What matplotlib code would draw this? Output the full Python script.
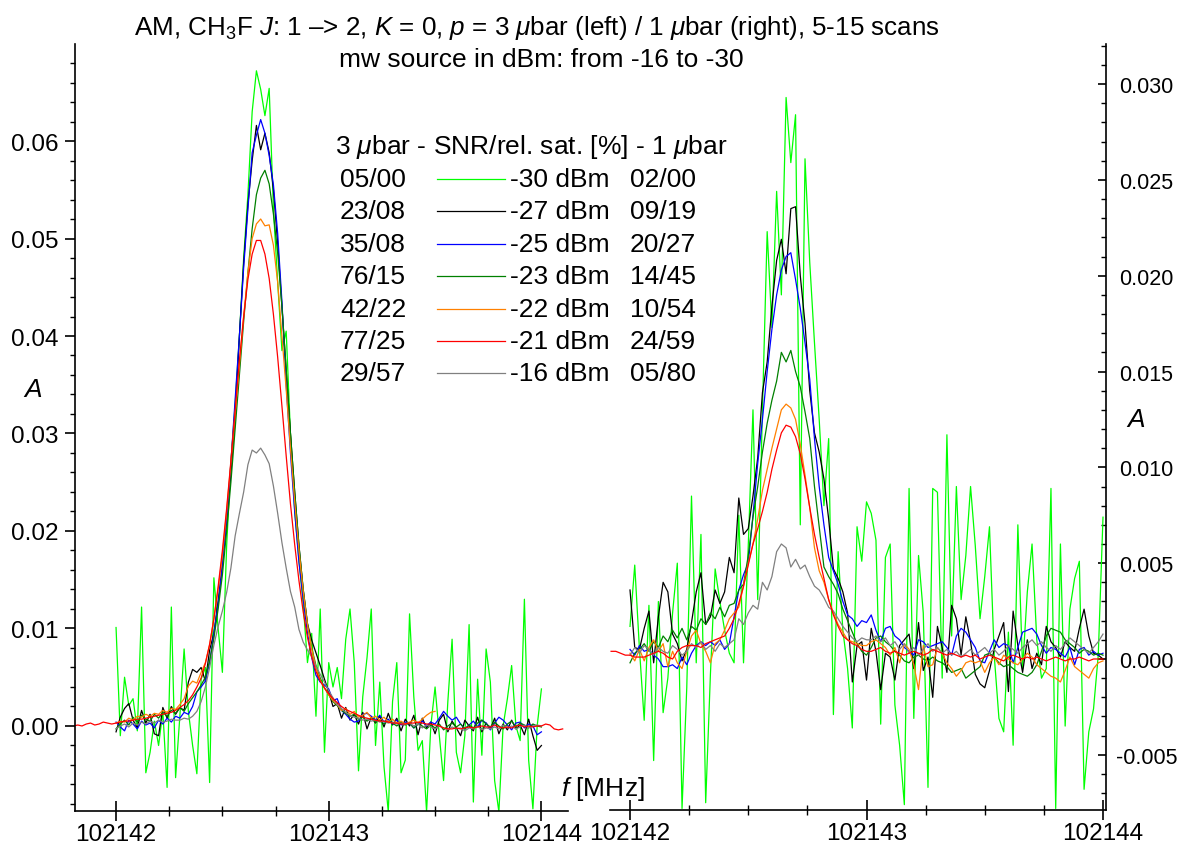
import numpy as np
import matplotlib.pyplot as plt
from matplotlib.lines import Line2D
from matplotlib.ticker import MultipleLocator, FormatStrFormatter

plt.rcParams['font.family'] = ['Liberation Sans', 'DejaVu Sans']
plt.rcParams['mathtext.fontset'] = 'custom'
plt.rcParams['mathtext.rm'] = 'Liberation Sans'
plt.rcParams['mathtext.it'] = 'Liberation Sans:italic'
plt.rcParams['axes.unicode_minus'] = False
plt.rcParams['font.size'] = 19
plt.rcParams['xtick.labelsize'] = 17.5
plt.rcParams['ytick.labelsize'] = 17.5

# frequency grid (MHz)
f_step = 0.02
left_f0 = 102142.0
left_red_f0 = 102141.8
right_f0 = 102142.0
right_red_f0 = 102141.92

powers = ['-30 dBm', '-27 dBm', '-25 dBm', '-23 dBm', '-22 dBm', '-21 dBm', '-16 dBm']
snr_3ubar = ['05/00', '23/08', '35/08', '76/15', '42/22', '77/25', '29/57']
snr_1ubar = ['02/00', '09/19', '20/27', '14/45', '10/54', '24/59', '05/80']
colors = ['#00ff00', '#000000', '#0000ff', '#008000', '#ff8000', '#ff0000', '#808080']

# absorbance A, in units of 1e-3 -- left panel, 3 ubar
left_m30 = [10.1, -1.0, 5.0, 2.1, 2.8, -0.5, 12.2, -4.8, -2.7, 0.5,
            -2.0, 1.5, -6.3, 12.2, -5.3, 1.0, 7.9, 1.5, -2.0, -4.9,
            4.8, 6.0, -5.8, 15.2, 10.0, 5.5, 18.5, 27.0, 33.0, 40.0,
            48.0, 54.5, 63.0, 67.2, 65.3, 62.6, 65.4, 53.0, 45.5, 38.5,
            40.5, 30.0, 22.0, 17.0, 12.5, 6.5, 9.5, 1.0, 12.0, -2.7,
            6.5, 4.0, 6.0, 2.8, 8.9, 12.0, 6.5, -4.6, 3.0, 7.0,
            12.0, -2.0, 4.5, -4.2, -8.8, 2.5, 6.5, -4.8, -3.5, 11.5,
            3.0, -2.5, -1.5, -8.8, 0.0, 4.0, -1.0, -5.6, 2.5, 8.9,
            -2.7, -4.8, -1.0, 10.4, -7.8, 4.8, -3.0, 7.9, 4.5, -5.6,
            -8.8, 0.0, 2.8, 6.2, 0.0, -1.5, 13.0, -3.5, -8.5, 0.0, 3.8]
left_m27 = [-0.6, 0.9, 1.8, 2.3, 0.6, -0.2, 1.6, 0.3, 1.2, -0.8,
            -1.0, 1.9, 0.8, 2.0, 1.2, 1.9, 1.6, 4.5, 5.8, 5.5,
            6.0, 4.6, 7.8, 9.5, 12.8, 16.5, 21.0, 26.0, 31.5, 40.0,
            47.5, 53.5, 58.0, 61.6, 59.1, 60.8, 58.8, 55.0, 49.5, 43.0,
            36.5, 30.0, 24.0, 18.5, 14.0, 10.5, 8.8, 7.5, 6.2, 4.8,
            3.5, 2.0, 2.3, 0.8, 1.9, 0.6, 1.2, 0.2, 1.4, -0.3,
            0.9, 0.3, 1.0, -0.1, 1.3, 0.1, 0.8, -0.5, 0.7, 0.0,
            1.1, -0.9, 0.8, -0.2, 0.4, -0.8, 0.6, 1.2, -0.6, 0.5,
            -0.2, -1.0, 0.6, 0.0, -0.5, 0.9, -0.6, 0.3, -0.3, 0.8,
            -0.8, 0.2, -0.4, 0.6, -0.3, 0.1, -0.9, 0.7, -1.0, -2.5, -2.0]
left_m25 = [0.4, -0.1, -0.5, 0.6, 0.2, -0.3, 0.5, 0.1, 0.3, -0.2,
            0.6, 0.2, 0.8, 0.4, 1.0, 0.8, 1.4, 1.2, 2.0, 3.5,
            4.0, 4.6, 6.5, 9.5, 12.5, 16.5, 21.0, 27.0, 33.5, 40.0,
            47.0, 53.0, 58.8, 60.6, 62.2, 60.8, 58.5, 55.5, 50.5, 43.5,
            35.0, 28.0, 22.0, 16.8, 13.0, 9.5, 7.0, 5.2, 4.5, 4.2,
            3.8, 2.6, 2.8, 1.6, 1.2, 0.7, 0.4, 0.5, 1.2, 1.3,
            1.0, 0.6, 1.1, 0.4, 0.7, 0.2, 0.6, 0.1, 0.4, 0.3,
            -0.2, 0.2, 0.5, 0.0, 0.4, 0.2, 0.8, 1.5, 1.0, 0.6,
            0.9, 0.2, -0.3, 0.1, 0.5, -0.1, 0.6, 0.3, -0.4, 0.3,
            0.9, 0.6, 0.1, -0.4, 0.3, 0.4, -0.2, 0.2, 0.0, -0.9, -0.6]
left_m23 = [-0.3, 0.2, 0.6, 0.1, 0.9, 0.4, 1.1, 0.7, 0.5, 1.2,
            0.8, 1.4, 1.0, 1.6, 1.3, 1.9, 1.5, 2.3, 2.9, 3.5,
            4.2, 5.0, 6.7, 9.0, 12.0, 15.5, 20.0, 25.0, 30.5, 36.0,
            41.5, 46.5, 51.0, 54.5, 56.2, 57.0, 55.6, 52.5, 48.5, 43.0,
            36.5, 30.0, 24.0, 18.5, 14.0, 10.5, 8.0, 6.2, 4.9, 3.9,
            3.2, 2.5, 2.1, 1.6, 1.3, 1.0, 1.2, 0.7, 0.9, 0.5,
            0.8, 0.4, 0.6, 0.2, 0.5, 0.3, 0.0, 0.4, 0.1, 0.3,
            -0.2, 0.2, 0.0, -0.3, 0.1, -0.2, 0.2, -0.4, 0.0, 0.3,
            -0.1, 0.2, -0.3, 0.1, -0.2, 0.3, 0.6, 0.2, -0.1, 0.4,
            0.0, -0.3, 0.2, 0.5, -0.1, 0.3, 0.1, -0.2, 0.2, 0.0, -0.1]
left_m22 = [0.3, 0.5, 0.4, 0.8, 0.6, 1.0, 0.9, 1.2, 1.0, 1.3,
            1.2, 1.6, 1.4, 1.8, 1.7, 2.2, 2.8, 4.1, 4.6, 4.4,
            5.5, 6.5, 8.3, 11.0, 14.0, 17.5, 22.0, 27.0, 32.0, 37.0,
            42.0, 46.5, 50.0, 51.5, 52.0, 51.3, 51.4, 49.3, 45.5, 40.0,
            34.5, 28.5, 23.0, 18.0, 13.8, 10.4, 7.9, 6.0, 4.7, 3.9,
            3.2, 2.6, 2.2, 1.6, 1.8, 1.2, 1.5, 0.9, 1.1, 1.4,
            0.8, 1.0, 0.6, 0.9, 0.4, 0.7, 0.3, 0.5, 0.2, 0.4,
            0.6, 0.3, 0.7, 1.1, 1.4, 1.5]
left_m21 = [0.0, 0.1, 0.0, 0.2, 0.3, 0.1, 0.2, 0.4, 0.3, 0.2,
            0.3, 0.4, 0.5, 0.5, 0.6, 0.7, 0.7, 0.8, 0.9, 1.0,
            1.1, 1.2, 1.3, 1.4, 1.6, 1.9, 2.2, 2.6, 3.2, 4.0,
            4.9, 6.4, 8.4, 11.0, 14.3, 18.0, 22.3, 27.2, 32.4, 37.5,
            42.0, 45.8, 48.4, 49.8, 49.8, 48.4, 45.9, 42.2, 37.8, 32.8,
            27.7, 22.8, 18.6, 14.9, 11.7, 9.1, 7.1, 5.6, 4.6, 3.9,
            3.3, 2.8, 2.4, 2.0, 1.7, 1.5, 1.3, 1.1, 0.9, 0.8,
            0.7, 0.6, 0.5, 0.5, 0.4, 0.3, 0.3, 0.2, 0.2, 0.3,
            0.3, 0.4, 0.3, 0.2, 0.2, 0.1, 0.0, -0.2, -0.3, -0.3,
            -0.2, -0.3, -0.2, -0.1, -0.2, -0.1, 0.0, -0.1, -0.1, 0.1,
            -0.1, -0.2, -0.1, -0.2, 0.0, 0.1, -0.1, 0.0, -0.1, 0.0,
            0.0, 0.2, 0.1, -0.3, -0.4, -0.3]
left_m16 = [-0.3, 0.0, 0.2, -0.1, 0.3, 0.1, 0.4, 0.2, 0.5, 0.3,
            0.6, 0.4, 0.5, 0.7, 0.6, 0.6, 0.8, 0.7, 1.0, 1.5,
            2.5, 4.0, 6.0, 8.3, 10.2, 11.8, 13.7, 16.2, 19.5, 21.8,
            24.0, 26.8, 28.3, 28.0, 28.5, 27.8, 26.9, 24.6, 21.8, 18.8,
            16.2, 13.8, 12.2, 9.9, 8.6, 7.8, 7.1, 6.1, 5.3, 4.5,
            3.6, 2.9, 2.2, 1.8, 1.4, 1.1, 0.9, 0.8, 0.6, 0.7,
            0.5, 0.6, 0.4, 0.5, 0.3, 0.4, 0.2, 0.3, 0.1, 0.3,
            0.0, 0.2, -0.2, 0.1, -0.1, -0.3, 0.0, -0.2, -0.4, -0.1,
            -0.3, -0.2, -0.5, -0.2, -0.3, 0.0, -0.4, -0.2, -0.3, -0.1,
            -0.3, 0.1, -0.2, 0.0, -0.3, -0.1, 0.1, -0.2, 0.0, 0.1, 0.0]

# right panel, 1 ubar
right_m30 = [1.7, 4.9, 0.5, -3.2, 2.8, -5.3, 3.0, -2.8, -1.0, 2.4,
             5.0, -7.8, -1.5, 8.5, -0.2, 6.5, -7.5, -0.8, 4.7, 3.0,
             1.5, 0.3, -0.2, 7.5, -0.2, 5.9, 13.0, 3.1, 13.0, 22.3,
             17.3, 24.4, 19.0, 29.3, 25.9, 28.4, 7.0, 26.1, 20.7, 16.5,
             12.5, 8.0, 11.5, -2.9, 5.6, 1.5, -0.5, -3.6, 6.9, 5.1,
             8.2, 7.6, 6.2, -3.4, 5.3, 6.0, -2.4, -4.5, -7.6, 8.9,
             -3.1, 5.4, 2.4, -6.7, 8.9, 8.7, -1.0, 11.7, 1.2, 9.0,
             3.1, 5.4, 9.0, 5.9, 2.1, 4.3, 6.9, 0.2, -3.1, -3.8,
             1.4, -4.5, 7.0, -0.5, 3.5, 6.0, 1.0, -1.0, -0.5, 8.9,
             -7.8, 6.0, -3.5, 2.6, 4.2, 5.1, -6.8, -3.8, -2.6, 0.2, 7.4]
right_m27 = [3.6, 0.6, 0.5, 1.6, 2.5, -0.2, 2.2, 4.0, 3.5, 1.3,
             0.8, -0.1, 0.5, 1.9, 3.5, 4.5, 1.8, 2.2, 3.6, 2.9,
             3.5, 5.3, 4.5, 8.4, 6.5, 6.8, 8.5, 10.5, 13.9, 15.5,
             18.4, 20.8, 21.9, 20.1, 23.5, 23.6, 20.0, 17.5, 14.0, 11.8,
             10.8, 9.4, 7.3, 4.7, 4.2, 3.5, 2.4, -1.2, 0.7, 0.9,
             -1.1, 1.6, 0.4, -1.6, 0.3, 0.1, -1.1, 0.7, 1.0, 1.3,
             -0.5, 1.9, -0.6, 0.1, -2.0, 1.7, 0.6, -0.7, 2.8, 2.1,
             0.2, 2.2, 0.9, -0.8, -1.3, -1.5, -0.6, 0.5, 1.2, 1.9,
             -1.7, 2.5, 0.7, -0.7, 1.0, -0.5, 0.3, -0.3, 1.7, 0.9,
             0.6, 0.1, 0.9, 0.6, 0.4, 1.6, 2.6, 1.2, 0.3, 0.2, 0.0]
right_m25 = [0.5, 0.2, 0.7, 0.4, 0.5, 0.2, 0.0, -0.4, -0.4, -0.3,
             -0.5, 0.1, -0.3, 0.3, 0.7, 0.9, 0.7, 0.9, 0.7, 1.0,
             0.5, 0.8, 2.2, 3.6, 4.4, 5.0, 7.5, 10.2, 12.5, 15.0,
             17.2, 19.0, 20.3, 21.0, 21.2, 19.8, 18.3, 16.5, 14.6, 11.5,
             9.0, 7.0, 5.3, 4.6, 3.9, 3.0, 2.3, 2.1, 1.7, 2.0,
             1.9, 2.3, 1.5, 0.9, 1.6, 1.7, 1.2, 1.0, 0.6, 0.4,
             0.2, 1.0, 0.9, 0.6, 0.7, 0.8, 0.9, 0.6, 0.2, 1.2,
             1.6, 1.4, 1.0, 0.6, -0.1, -0.2, 0.4, 1.0, 0.6, 0.8,
             0.7, -0.2, 0.6, 1.4, 1.5, 1.6, 1.3, 0.7, 0.3, 0.6,
             0.5, 0.3, 0.1, 0.6, -0.3, 0.5, 0.6, 0.2, 0.4, 0.2, 0.3]
right_m23 = [-0.2, 0.3, 0.5, 0.8, 0.4, 0.9, 0.6, 1.2, 0.9, 1.5,
             1.1, 1.6, 1.0, 1.7, 1.5, 2.1, 1.8, 2.4, 2.1, 2.7,
             2.2, 2.8, 2.9, 3.6, 3.9, 5.4, 7.4, 9.0, 10.8, 12.3,
             13.5, 14.5, 16.0, 15.5, 16.1, 15.0, 14.2, 12.9, 11.5, 9.0,
             6.9, 4.8, 4.3, 3.9, 3.4, 2.6, 2.0, 1.4, 0.8, 0.4,
             0.2, 0.6, 1.1, 1.2, 0.9, 0.7, 0.4, 0.2, -0.1, -0.2,
             0.1, 0.2, 0.0, -0.1, 0.1, -0.1, -0.2, -0.4, -0.7, -0.6,
             -0.5, -1.0, -0.8, -0.6, -0.4, 0.2, 0.3, 0.1, -0.2, -0.4,
             -0.3, -0.5, -0.7, -0.8, -0.9, -0.7, -0.3, 0.4, 1.2, 1.6,
             1.5, 1.4, 1.0, 0.8, 0.6, 0.3, 0.5, 0.4, 0.2, 0.3, 0.2]
right_m22 = [0.3, -0.1, 0.5, -0.1, 0.6, 1.0, 0.4, 0.8, -0.4, 0.4,
             -0.2, -0.5, 0.4, 1.2, 1.5, 0.8, 0.4, -0.2, 0.8, 1.0,
             1.5, 2.1, 2.4, 2.7, 3.8, 5.0, 6.0, 7.3, 8.8, 9.9,
             11.0, 12.0, 13.0, 13.3, 13.1, 12.5, 11.2, 9.6, 7.9, 5.8,
             4.6, 4.0, 3.1, 2.4, 1.8, 1.4, 1.0, 0.9, 0.8, 0.7,
             0.7, 0.9, 1.0, 0.8, 0.6, 0.2, 0.6, -0.2, 0.8, 0.5,
             -0.3, -1.6, 0.7, -0.4, -0.3, 0.6, 0.3, -0.2, -0.5, -0.9,
             -0.6, -0.2, -0.1, -0.2, -0.1, -0.7, -0.2, 0.1, -0.3, 0.2,
             0.0, -0.2, -0.3, 0.0, 0.3, 0.1, -0.3, -0.5, -0.7, -0.9,
             -1.0, -1.2, -0.6, 0.1, -0.4, -0.6, -0.8, -1.0, -0.5, -0.2, -0.1]
right_m21 = [0.4, 0.4, 0.3, 0.2,
             0.2, 0.1, 0.1, 0.1, 0.2, 0.3, 0.4, 0.3, 0.1, 0.0,
             0.4, 0.6, 0.7, 0.7, 0.7, 0.6, 0.8, 0.9, 1.0, 1.1,
             1.2, 1.6, 2.1, 2.9, 3.8, 4.9, 6.0, 6.8, 7.7, 8.7,
             9.9, 10.9, 11.8, 12.2, 12.1, 11.6, 10.7, 9.4, 7.9, 6.5,
             5.3, 4.2, 3.1, 2.3, 1.7, 1.2, 1.0, 0.8, 0.7, 0.5,
             0.4, 0.4, 0.5, 0.6, 0.4, 0.3, 0.4, 0.3, 0.2, 0.3,
             0.4, 0.3, 0.2, 0.3, 0.5, 0.4, 0.3, 0.2, 0.3, 0.2,
             0.1, 0.2, 0.1, 0.2, 0.0, 0.1, 0.2, 0.1, 0.0, -0.1,
             0.1, 0.2, 0.1, 0.0, 0.1, 0.0, 0.1, 0.0, -0.1, 0.0,
             0.1, 0.0, -0.1, 0.0, 0.0, 0.1, 0.0, -0.1, 0.0, 0.0, 0.0]
right_m16 = [0.2, 0.6, 0.3, 0.7, 0.5, 0.2, 0.6, 0.4, 0.3, 0.7,
             0.5, 0.2, 0.4, 0.8, 0.6, 0.9, 0.5, 0.7, 0.4, 0.8,
             0.6, 0.8, 1.0, 2.1, 1.8, 2.4, 2.8, 2.6, 4.0, 3.6,
             4.3, 5.6, 6.0, 5.8, 4.8, 5.2, 4.7, 4.9, 4.3, 3.8,
             3.6, 3.2, 2.7, 2.5, 2.1, 1.7, 1.4, 1.1, 0.9, 1.1,
             1.0, 1.0, 1.2, 0.9, 1.1, 0.7, 0.9, 0.5, 0.8, 0.3,
             0.6, 0.2, 0.5, 0.8, 0.4, 0.6, 0.3, 0.5, 0.2, 0.4,
             0.1, 0.3, 0.5, 0.2, 0.4, 0.6, 0.3, 0.5, 0.2, 0.4,
             0.7, 0.5, 0.3, 0.6, 0.8, 1.0, 0.7, 0.9, 0.6, 0.4,
             0.7, 0.5, 0.8, 1.1, 0.9, 0.7, 0.5, 0.3, 0.6, 0.9, 1.3]

W, H = 1179, 854
fig = plt.figure(figsize=(W / 100, H / 100), dpi=100)


def fx(x):
    return x / W


def fy(y):
    return 1 - y / H


def trace(ax, f0, vals, color):
    f = f0 + f_step * np.arange(len(vals))
    ax.plot(f, np.array(vals) * 1e-3, color=color, lw=0.9)


axL = fig.add_axes([fx(75), fy(812), (568 - 75) / W, (812 - 45) / H])
axR = fig.add_axes([fx(610), fy(811), (1106 - 610) / W, (811 - 45) / H])

left_sets = [(left_f0, left_m30), (left_f0, left_m27), (left_f0, left_m25),
             (left_f0, left_m23), (left_f0, left_m22), (left_f0, left_m16),
             (left_red_f0, left_m21)]
right_sets = [(right_f0, right_m30), (right_f0, right_m27), (right_f0, right_m25),
              (right_f0, right_m23), (right_f0, right_m22), (right_f0, right_m16),
              (right_red_f0, right_m21)]
order = [0, 1, 2, 3, 4, 6, 5]  # colour index for each set above
for (f0, vals), ci in zip(left_sets, order):
    trace(axL, f0, vals, colors[ci])
for (f0, vals), ci in zip(right_sets, order):
    trace(axR, f0, vals, colors[ci])

axL.set_xlim(102141.807, 102144.125)
axL.set_ylim(-0.00872, 0.06995)
axR.set_xlim(102141.9154, 102144.0127)
axR.set_ylim(-0.00788, 0.03209)

for ax in (axL, axR):
    ax.set_facecolor('none')
    ax.spines['top'].set_visible(False)
    for s in ax.spines.values():
        s.set_linewidth(1.2)
    ax.xaxis.set_major_locator(MultipleLocator(1))
    ax.xaxis.set_minor_locator(MultipleLocator(0.25))
    ax.xaxis.set_major_formatter(FormatStrFormatter('%d'))
    ax.tick_params(axis='x', which='major', direction='inout', length=14, width=1.2, pad=2)
    ax.tick_params(axis='x', which='minor', direction='inout', length=7, width=1.0)

axL.spines['right'].set_visible(False)
axL.yaxis.set_major_locator(MultipleLocator(0.01))
axL.yaxis.set_minor_locator(MultipleLocator(0.002))
axL.yaxis.set_major_formatter(FormatStrFormatter('%.2f'))
axL.tick_params(axis='y', which='major', direction='out', length=7, width=1.2, pad=5)
axL.tick_params(axis='y', which='minor', direction='out', length=3.6, width=1.0)

axR.spines['left'].set_visible(False)
axR.yaxis.tick_right()
axR.yaxis.set_major_locator(MultipleLocator(0.005))
axR.yaxis.set_minor_locator(MultipleLocator(0.001))
axR.yaxis.set_major_formatter(FormatStrFormatter('%.3f'))
axR.tick_params(axis='y', which='major', direction='in', length=6, width=1.2, pad=29,
                labelsize=15.5)
axR.tick_params(axis='y', which='minor', direction='in', length=3.6, width=1.0)
for t in axR.yaxis.get_major_ticks():
    t.label2.set_horizontalalignment('center')

# titles
fig.text(fx(537), fy(28),
         'AM, CH$_3$F $J$: 1 \u2013> 2, $K$ = 0, $p$ = 3 $\\mu$bar (left) / 1 $\\mu$bar (right), 5-15 scans',
         ha='center', va='center', fontsize=18.7)
fig.text(fx(541), fy(60), 'mw source in dBm: from -16 to -30', ha='center', va='center')

# axis labels
fig.text(fx(33), fy(390), 'A', style='italic', ha='center', va='center')
fig.text(fx(1136), fy(420), 'A', style='italic', ha='center', va='center')
fig.text(fx(561), fy(789), '$f$ [MHz]', ha='left', va='center')

# legend block
fig.text(fx(335), fy(147), '3 $\\mu$bar - SNR/rel. sat. [%] - 1 $\\mu$bar', ha='left', va='center')
for i in range(len(powers)):
    y = 180 + 32.4 * i
    fig.text(fx(340), fy(y), snr_3ubar[i], ha='left', va='center')
    fig.add_artist(Line2D([fx(437), fx(505)], [fy(y), fy(y)], color=colors[i], lw=0.9,
                          transform=fig.transFigure))
    fig.text(fx(510), fy(y), powers[i], ha='left', va='center')
    fig.text(fx(630), fy(y), snr_1ubar[i], ha='left', va='center')

fig.savefig('out.png', dpi=100)
